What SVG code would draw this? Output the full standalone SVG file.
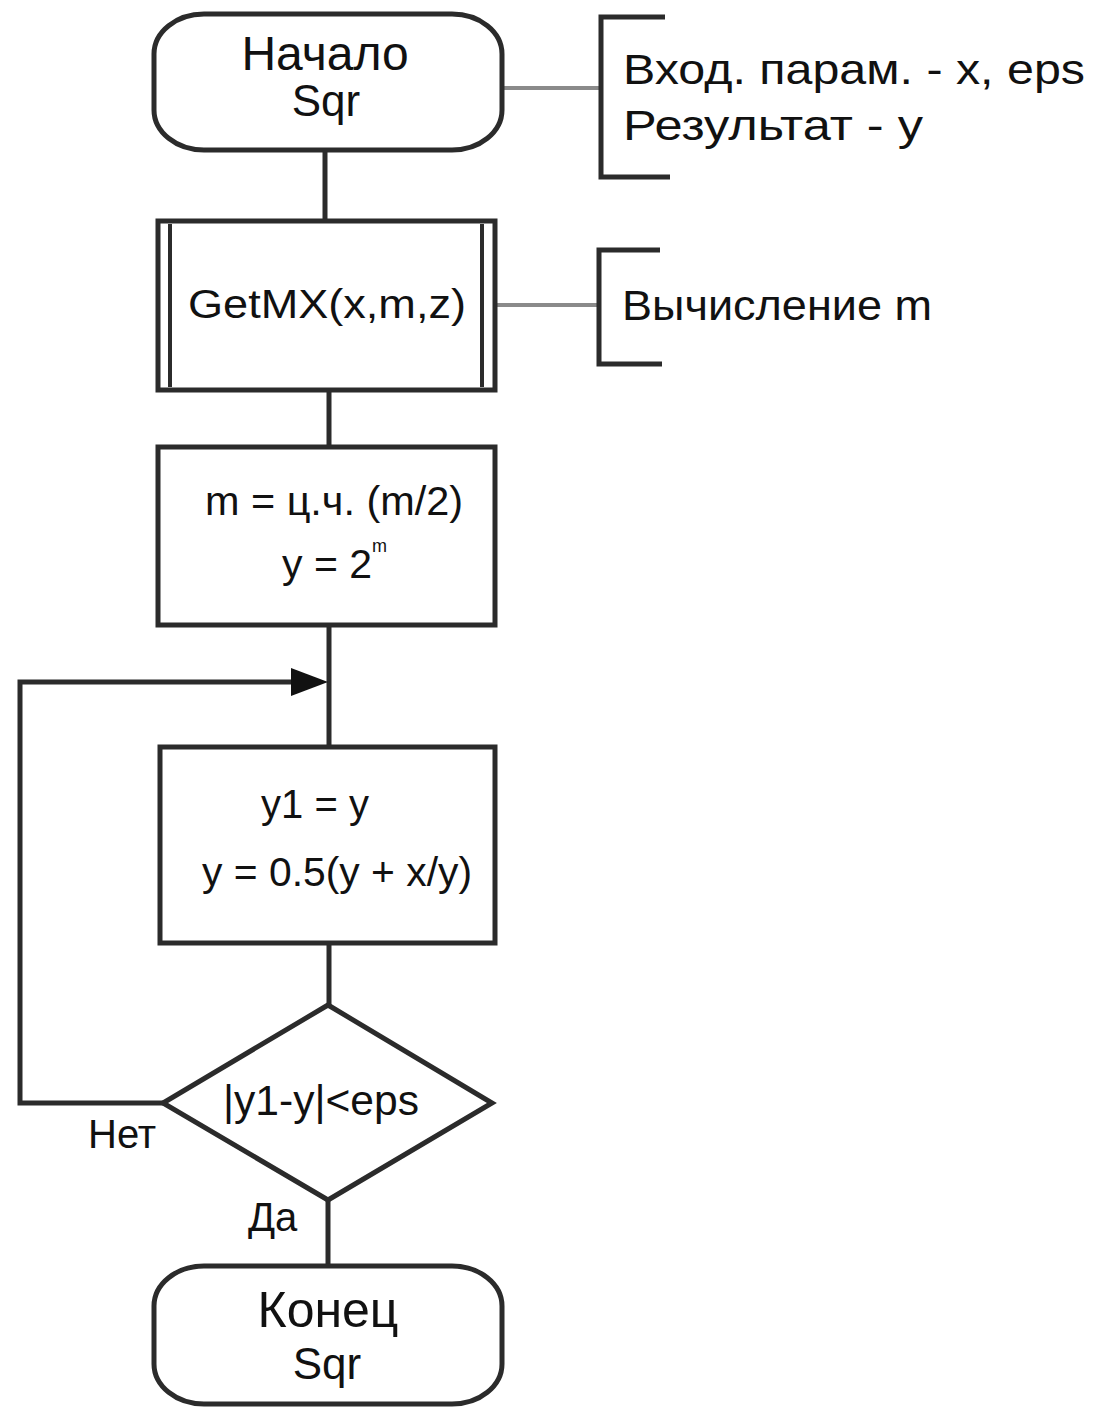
<svg xmlns="http://www.w3.org/2000/svg" width="1097" height="1410" viewBox="0 0 1097 1410">
<style>
.sh{fill:#fff;stroke:#2b2b2b;stroke-width:5}
.ln{fill:none;stroke:#2b2b2b;stroke-width:5}
.gl{fill:none;stroke:#8a8a8a;stroke-width:4}
.br{fill:none;stroke:#2b2b2b;stroke-width:5}
text{font-family:"Liberation Sans",Arial,sans-serif;fill:#111}
.t{font-size:40px;text-anchor:middle}
.n{font-size:42px}
.s{font-size:40px}
</style>
<rect width="1097" height="1410" fill="#fff"/>
<g id="connectors">
<path class="ln" d="M325,150 V220"/>
<path class="ln" d="M329,390 V447"/>
<path class="ln" d="M329,625 V747"/>
<path class="ln" d="M329,943 V1005"/>
<path class="ln" d="M328,1200 V1265"/>
<path class="ln" d="M163,1103 H20 V682 H292"/>
<path d="M291,668 L328,682 L291,696 Z" fill="#111"/>
<path class="gl" d="M502,88 H600"/>
<path class="gl" d="M495,305 H598"/>
</g>
<g id="start">
<rect class="sh" x="154" y="14" width="348" height="136" rx="50" ry="40"/>
<text class="t" x="325" y="70" style="font-size:48px">Начало</text>
<text class="t" x="326" y="116" style="font-size:44px">Sqr</text>
</g>
<g id="note1">
<path class="br" d="M665,17 H601 V177 H670"/>
<text class="n" x="623" y="84" textLength="462" lengthAdjust="spacingAndGlyphs">Вход. парам. - x, eps</text>
<text class="n" x="623" y="140" textLength="300" lengthAdjust="spacingAndGlyphs">Результат - y</text>
</g>
<g id="getmx">
<rect class="sh" x="158" y="221" width="337" height="169"/>
<path class="ln" d="M170,224 V387 M482,224 V387" style="stroke-width:4"/>
<text class="t" x="327" y="318" textLength="278" lengthAdjust="spacingAndGlyphs">GetMX(x,m,z)</text>
</g>
<g id="note2">
<path class="br" d="M660,250 H599 V364 H662"/>
<text class="n" x="622" y="320" textLength="310" lengthAdjust="spacingAndGlyphs">Вычисление m</text>
</g>
<g id="proc1">
<rect class="sh" x="158" y="447" width="337" height="178"/>
<text class="t" x="334" y="515" textLength="258" lengthAdjust="spacingAndGlyphs">m = ц.ч. (m/2)</text>
<text x="282" y="578" style="font-size:41px">y = 2<tspan dy="-26" style="font-size:18px">m</tspan></text>
</g>
<g id="proc2">
<rect class="sh" x="160" y="747" width="335" height="196"/>
<text class="t" x="315" y="818">y1 = y</text>
<text class="t" x="337" y="886" textLength="270" lengthAdjust="spacingAndGlyphs">y = 0.5(y + x/y)</text>
</g>
<g id="decision">
<path class="sh" d="M328,1005 L492,1103 L328,1200 L163,1103 Z"/>
<text class="t" x="321" y="1115" style="font-size:42px" textLength="196" lengthAdjust="spacingAndGlyphs">|y1-y|&lt;eps</text>
</g>
<g id="labels">
<text class="s" x="88" y="1148">Нет</text>
<text class="s" x="248" y="1231">Да</text>
</g>
<g id="end">
<rect class="sh" x="154" y="1266" width="348" height="138" rx="50" ry="40"/>
<text class="t" x="328" y="1327" style="font-size:50px">Конец</text>
<text class="t" x="327" y="1379" style="font-size:44px">Sqr</text>
</g>
</svg>
